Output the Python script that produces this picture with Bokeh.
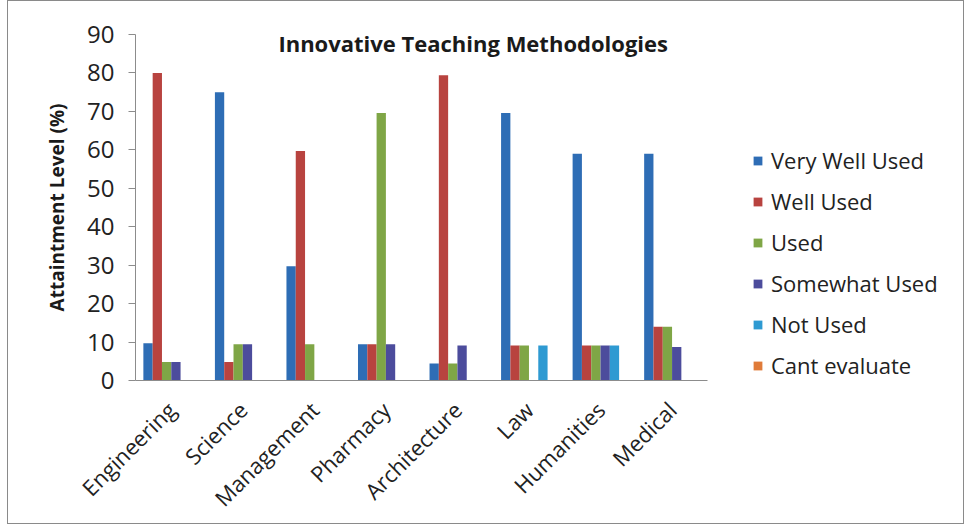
from bokeh.plotting import figure
from bokeh.models import (ColumnDataSource, Range1d, FixedTicker, Legend,
                          LegendItem, Label)
from bokeh.embed import file_html
from bokeh.resources import INLINE

# ---- data ----
categories = ["Engineering", "Science", "Management", "Pharmacy",
              "Architecture", "Law", "Humanities", "Medical"]
series_names = ["Very Well Used", "Well Used", "Used", "Somewhat Used",
                "Not Used", "Cant evaluate"]
very_well_used = [9.7, 75, 29.7, 9.4, 4.4, 69.6, 59, 59]
well_used = [80, 4.8, 59.7, 9.4, 79.4, 9.1, 9.1, 14]
used = [4.8, 9.4, 9.4, 69.6, 4.4, 9.1, 9.1, 14]
somewhat_used = [4.8, 9.4, 0, 9.4, 9.1, 0, 9.1, 8.7]
not_used = [0, 0, 0, 0, 0, 9.1, 9.1, 0]
cant_evaluate = [0, 0, 0, 0, 0, 0, 0, 0]
y_ticks = [0, 10, 20, 30, 40, 50, 60, 70, 80, 90]

series_values = [very_well_used, well_used, used, somewhat_used,
                 not_used, cant_evaluate]
colors = ["#2E6DB5", "#B8433F", "#7FA646", "#4C4C9C", "#2E9AD2", "#E07B39"]

FONT = "Open Sans"

n = len(categories)
centers = [i + 0.5 for i in range(n)]
bw = 0.13

p = figure(
    width=957, height=524,
    x_range=Range1d(0, 11.42),
    y_range=Range1d(0, 90),
    output_backend="svg", toolbar_location=None,
    min_border_left=127, min_border_right=13,
    min_border_top=33, min_border_bottom=143,
)
p.margin = (0, 0, 0, 7)
p.styles = {"border": "1px solid #8a8a8a"}
p.outline_line_color = None
p.xgrid.grid_line_color = None
p.ygrid.grid_line_color = None
p.background_fill_color = "white"
p.border_fill_color = "white"

items = []
for j, (name, vals) in enumerate(zip(series_names, series_values)):
    off = (j - 2.5) * bw
    src = ColumnDataSource(data=dict(x=[c + off for c in centers], top=vals))
    r = p.vbar(x="x", top="top", width=bw, source=src,
               fill_color=colors[j], line_color=None)
    items.append(LegendItem(label=name, renderers=[r]))

# y axis
ya = p.yaxis[0]
ya.ticker = FixedTicker(ticks=y_ticks)
ya.minor_tick_line_color = None
ya.major_tick_in = 0
ya.major_tick_out = 7
ya.axis_line_color = "#8c8c8c"
ya.major_tick_line_color = "#8c8c8c"
ya.major_label_text_font = FONT
ya.major_label_text_font_size = "24px"
ya.major_label_text_color = "#222222"
ya.major_label_standoff = 14
ya.axis_label = "Attaintment Level (%)"
ya.axis_label_text_font = FONT
ya.axis_label_text_font_style = "bold"
ya.axis_label_text_font_size = "19px"
ya.axis_label_text_color = "#1a1a1a"
ya.axis_label_standoff = 14

# x axis (category axis drawn over the bar groups only)
xa = p.xaxis[0]
xa.ticker = FixedTicker(ticks=centers)
xa.major_label_overrides = {c: name for c, name in zip(centers, categories)}
xa.bounds = (0, n)
xa.axis_line_color = "#8c8c8c"
xa.major_tick_line_color = None
xa.minor_tick_line_color = None
xa.major_label_orientation = 0.785398
xa.major_label_text_font = FONT
xa.major_label_text_font_size = "22px"
xa.major_label_text_color = "#222222"
xa.major_label_standoff = 19

# title inside plot area
p.add_layout(Label(x=4.72, y=87.7, text="Innovative Teaching Methodologies",
                   text_font=FONT, text_font_style="bold",
                   text_font_size="22px", text_color="#1a1a1a",
                   text_align="center", text_baseline="middle"))

legend = Legend(items=items, location=(617, 0))
legend.label_text_font = FONT
legend.label_text_font_size = "22px"
legend.label_text_color = "#222222"
legend.glyph_width = 11
legend.glyph_height = 11
legend.label_standoff = 8
legend.label_height = 25
legend.spacing = 11
legend.padding = 0
legend.margin = 0
legend.border_line_color = None
legend.background_fill_alpha = 0
p.add_layout(legend, "center")

open("out.html", "w").write(file_html(p, INLINE))
